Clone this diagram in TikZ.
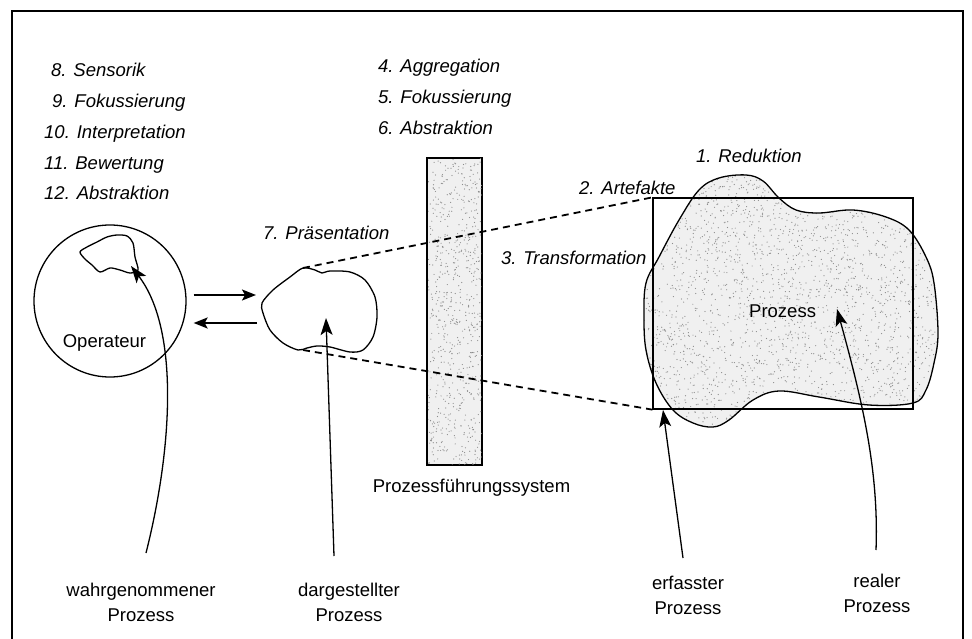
\documentclass[tikz,border=0pt]{standalone}
\usepackage{fontspec}
\setmainfont{Liberation Sans}
\usetikzlibrary{arrows.meta}

\tikzset{
  linie/.style={line width=1.3pt},
  pfeil/.style={line width=1.3pt, -{Stealth[length=17pt,width=12pt,inset=4pt]}},
  pfeilkurz/.style={line width=1.8pt, -{Stealth[length=14pt,width=11pt,inset=3pt]}},
  gestrichelt/.style={line width=1.8pt, dash pattern=on 7pt off 5pt},
  stufe/.style={font=\itshape\fontsize{18.5}{22}\selectfont, anchor=base west, inner sep=0pt},
  beschr/.style={font=\fontsize{18.5}{25}\selectfont, align=center, anchor=north, inner sep=0pt},
  punkt/.style={black!45},
}
\def\prozessumriss{plot[smooth cycle, tension=0.6] coordinates {
  (746,175) (763,181) (779,198) (796,210) (819,213) (853,210) (886,217)
  (909,230) (926,257) (934,283) (938,333) (934,363) (926,390) (913,403)
  (869,405) (819,397) (779,391) (753,400) (729,420) (713,427) (693,423)
  (673,410) (656,383) (646,350) (644,317) (646,283) (659,257) (679,220)
  (699,190) (719,178)}}

\begin{document}
\begin{tikzpicture}[x=1pt, y=-1pt]
  \useasboundingbox (0,0) rectangle (972,639);

  % --- Rahmen ---
  \draw[line width=1.8pt] (12,639) -- (12,11) -- (963,11) -- (963,639);

  % --- Stufen ---
  \foreach \x/\y/\t [count=\i] in {51/77/8. Sensorik, 52/108/9. Fokussierung,
      44/139/10. Interpretation, 44/170/11. Bewertung, 44/200/12. Abstraktion}
    \node[stufe] (opstufe\i) at (\x,\y) {\t};
  \foreach \y/\t [count=\i] in {73/4. Aggregation, 104/5. Fokussierung, 135/6. Abstraktion}
    \node[stufe] (sysstufe\i) at (378,\y) {\t};
  \node[stufe] (reduktion) at (696,163) {1. Reduktion};
  \node[stufe] (artefakte) at (579,195) {2. Artefakte};
  \node[stufe] (transform) at (501,265) {3. Transformation};
  \node[stufe] (praesent) at (263,240) {7. Präsentation};

  % --- Operateur ---
  \node[draw, circle, linie, minimum size=152pt, inner sep=0pt] (oper) at (110,301) {};
  \node[font=\fontsize{18.5}{22}\selectfont, anchor=base] (opertext) at (104.5,347) {Operateur};
  \draw[linie] plot[smooth cycle, tension=0.5] coordinates {
    (80,252) (87,247) (97,242) (107,237) (117,235) (127,236) (133,243)
    (135,257) (138,270) (130,273) (120,270) (110,268) (100,272) (92,265) (85,259)};

  % --- dargestellter Prozess ---
  \draw[linie] plot[smooth cycle, tension=0.5] coordinates {
    (303,268) (315,270) (322,273) (330,271) (350,272) (365,280) (375,297)
    (377,317) (373,337) (363,350) (350,352) (330,347) (317,346) (307,348)
    (298,350) (283,343) (270,330) (263,313) (262,303) (273,290) (290,277)};
  \coordinate (dispoben) at (303,268);
  \coordinate (dispunten) at (303,350);
  \coordinate (displinks) at (262,303);

  \draw[pfeilkurz] ([shift={(7,-6)}]oper.east) -- ([shift={(-6,-8)}]displinks);
  \draw[pfeilkurz] ([shift={(-5,20)}]displinks) -- ([shift={(7,22)}]oper.east);

  % --- Prozessfuehrungssystem ---
  \node[draw, linie, fill=black!6, minimum width=54pt, minimum height=307pt,
        inner sep=0pt] (pfs) at (454.5,311.5) {};
  \begin{scope}
    \clip (pfs.south west) rectangle (pfs.north east);
    \pgfmathsetseed{17}
    \foreach \i in {1,...,700}
      \fill[punkt] ({427+55*rnd},{158+308*rnd}) circle (0.6pt);
  \end{scope}
  \draw[linie] (pfs.south west) rectangle (pfs.north east);
  \node[font=\fontsize{18.5}{22}\selectfont, anchor=base] (pfstext) at (471.5,492)
    {Prozessführungssystem};

  % --- realer Prozess ---
  \fill[black!6] \prozessumriss;
  \begin{scope}
    \clip \prozessumriss;
    \pgfmathsetseed{5}
    \foreach \i in {1,...,2600}
      \fill[punkt] ({644+295*rnd},{175+253*rnd}) circle (0.6pt);
  \end{scope}
  \draw[linie] \prozessumriss;
  \node[font=\fontsize{18.5}{22}\selectfont, anchor=base west, inner sep=0pt]
    (prozess) at (749,317) {Prozess};

  % --- erfasster Prozess ---
  \node[draw, linie, minimum width=260pt, minimum height=211pt, inner sep=0pt]
    (erfasst) at (783,303.5) {};
  \draw[gestrichelt] (dispoben) -- (erfasst.north west);
  \draw[gestrichelt] (dispunten) -- (erfasst.south west);

  % --- Beschriftungen unten ---
  \node[beschr] (wahr) at (141,583) {wahrgenommener\\Prozess};
  \node[beschr] (darg) at (349,583) {dargestellter\\Prozess};
  \node[beschr] (erf) at (688,576) {erfasster\\Prozess};
  \node[beschr] (real) at (877,574) {realer\\Prozess};

  \coordinate (wahrfuss) at (146,553);
  \coordinate (dargfuss) at (334,556);
  \coordinate (erffuss) at (683,558);
  \coordinate (realfuss) at (876,550);

  \draw[pfeil] (wahrfuss) .. controls (172,450) and (180,330) .. (131,266);
  \draw[pfeil] (dargfuss) -- (326,318);
  \draw[pfeil] (erffuss) -- (663,410);
  \draw[pfeil] (realfuss) .. controls (879,470) and (862,400) .. (837,309);

\end{tikzpicture}
\end{document}
